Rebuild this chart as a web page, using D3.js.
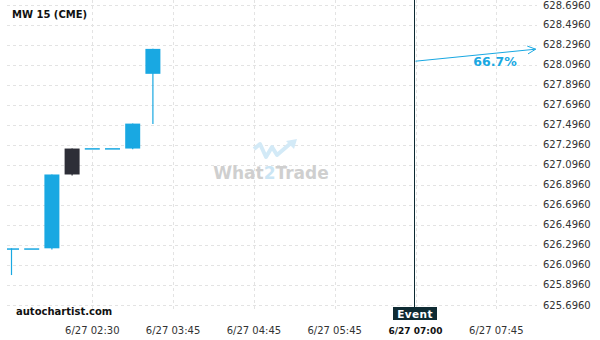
<!DOCTYPE html>
<html>
<head>
<meta charset="utf-8">
<script src="https://cdn.jsdelivr.net/npm/d3@7"></script>
<style>
  body { margin: 0; background: #fff; }
  text { font-family: "DejaVu Sans", sans-serif; }
</style>
</head>
<body>
<div id="chart"></div>
<script>
// candles, 15 min bars, by index
var opens  = [626.262, 626.262, 626.262, 627.258, 627.262, 627.262, 627.258, 628.004];
var highs  = [626.262, 626.262, 626.999, 627.258, 627.262, 627.262, 627.507, 628.253];
var lows   = [625.995, 626.262, 626.250, 626.990, 627.262, 627.262, 627.250, 627.504];
var closes = [626.262, 626.262, 626.999, 626.999, 627.262, 627.262, 627.507, 628.253];

var yTicks = [625.696, 625.896, 626.096, 626.296, 626.496, 626.696, 626.896, 627.096,
              627.296, 627.496, 627.696, 627.896, 628.096, 628.296, 628.496, 628.696];
var xTickIdx    = [4, 8, 12, 16, 20, 24];
var xTickLabels = ['6/27 02:30', '6/27 03:45', '6/27 04:45', '6/27 05:45', '6/27 07:00', '6/27 07:45'];

var eventIdx = 20;
var forecastFrom = 628.13, forecastTo = 628.25, forecastEndIdx = 26;
var forecastLabel = '66.7%';

var width = 600, height = 340;
var plot = {left: 7, right: 537, top: 0, bottom: 310};

var svg = d3.select('#chart').append('svg')
    .attr('width', width)
    .attr('height', height);

var x = d3.scaleLinear().domain([0, 25]).range([11.5, 516.5]);
var y = d3.scaleLinear().domain([625.696, 628.696]).range([305, 4.5]);

svg.append('defs').append('clipPath').attr('id', 'clip')
    .append('rect')
    .attr('x', plot.left).attr('y', plot.top)
    .attr('width', plot.right - plot.left).attr('height', plot.bottom - plot.top);

// grid
var grid = svg.append('g').attr('stroke', '#e3e3e3').attr('stroke-dasharray', '3,3');
grid.selectAll('.hg').data(yTicks).enter().append('line')
    .attr('x1', plot.left).attr('x2', plot.right)
    .attr('y1', function (d) { return Math.round(y(d)) + 0.5; })
    .attr('y2', function (d) { return Math.round(y(d)) + 0.5; });
grid.selectAll('.vg').data(xTickIdx).enter().append('line')
    .attr('y1', plot.top).attr('y2', plot.bottom)
    .attr('x1', function (d) { return Math.round(x(d)) + 0.5; })
    .attr('x2', function (d) { return Math.round(x(d)) + 0.5; });

// y axis labels
svg.append('g').selectAll('text').data(yTicks).enter().append('text')
    .attr('x', 543)
    .attr('y', function (d) { return Math.max(y(d), 5.5); })
    .attr('dy', '0.35em')
    .attr('font-size', 10)
    .attr('fill', '#333')
    .text(function (d) { return d.toFixed(4); });

// x axis labels
svg.append('g').selectAll('text').data(xTickIdx).enter().append('text')
    .attr('x', function (d) { return x(d); })
    .attr('y', 334)
    .attr('text-anchor', 'middle')
    .attr('font-size', function (d) { return d === eventIdx ? 9 : 10; })
    .attr('font-weight', function (d) { return d === eventIdx ? 'bold' : 'normal'; })
    .attr('fill', function (d) { return d === eventIdx ? '#111' : '#333'; })
    .text(function (d, i) { return xTickLabels[i]; });

// watermark
var wm = svg.append('g');
wm.append('path')
    .attr('d', 'M254,149 L260,144 L266,157 L272,147 L277,155 L291,143')
    .attr('fill', 'none').attr('stroke', '#d3eaf7').attr('stroke-width', 4)
    .attr('stroke-linejoin', 'round');
wm.append('path')
    .attr('d', 'M286,141 L297,139 L294,149 Z')
    .attr('fill', '#d3eaf7');
var wt = wm.append('text')
    .attr('x', 271).attr('y', 179)
    .attr('text-anchor', 'middle')
    .attr('font-size', 17).attr('font-weight', 'bold')
    .attr('font-family', '"Open Sans", "DejaVu Sans", sans-serif')
    .attr('fill', '#cfcfcf');
wt.append('tspan').text('What');
wt.append('tspan').attr('fill', '#cbe5f4').text('2');
wt.append('tspan').text('Trade');

// candles
var body = svg.append('g').attr('clip-path', 'url(#clip)');
var idx = d3.range(opens.length);
var cw = 15;
function col(i) { return closes[i] < opens[i] ? '#2d2e37' : '#19a8e2'; }

body.selectAll('.wick').data(idx).enter().append('line')
    .attr('x1', function (i) { return x(i); })
    .attr('x2', function (i) { return x(i); })
    .attr('y1', function (i) { return y(highs[i]); })
    .attr('y2', function (i) { return y(lows[i]); })
    .attr('stroke', col)
    .attr('stroke-width', 1.2);

body.selectAll('.candle').data(idx).enter().append('rect')
    .attr('x', function (i) { return x(i) - cw / 2; })
    .attr('width', cw)
    .attr('y', function (i) { return y(Math.max(opens[i], closes[i])); })
    .attr('height', function (i) { return Math.max(1.5, Math.abs(y(opens[i]) - y(closes[i]))); })
    .attr('fill', col);

// event line
var ex = Math.floor(x(eventIdx)) - 0.5;
svg.append('line')
    .attr('x1', ex).attr('x2', ex)
    .attr('y1', 0).attr('y2', 308)
    .attr('stroke', '#0d2a33').attr('stroke-width', 1);
svg.append('rect')
    .attr('x', x(eventIdx) - 22.5).attr('y', 307)
    .attr('width', 44).attr('height', 13)
    .attr('fill', '#0f2b33');
svg.append('text')
    .attr('x', x(eventIdx) - 0.5).attr('y', 317.5)
    .attr('text-anchor', 'middle')
    .attr('font-size', 10.5).attr('font-weight', 'bold')
    .attr('fill', '#fff')
    .attr('letter-spacing', 0.4)
    .text('Event');

// forecast arrow
var ax1 = x(eventIdx), ay1 = y(forecastFrom), ax2 = x(forecastEndIdx) - 1, ay2 = y(forecastTo);
var ang = Math.atan2(ay2 - ay1, ax2 - ax1);
svg.append('line')
    .attr('x1', ax1).attr('y1', ay1).attr('x2', ax2).attr('y2', ay2)
    .attr('stroke', '#19a8e2').attr('stroke-width', 1);
var hl = 9, ha = 0.45;
svg.append('path')
    .attr('d', 'M' + (ax2 - hl * Math.cos(ang - ha)) + ',' + (ay2 - hl * Math.sin(ang - ha)) +
               'L' + ax2 + ',' + ay2 +
               'L' + (ax2 - hl * Math.cos(ang + ha)) + ',' + (ay2 - hl * Math.sin(ang + ha)))
    .attr('fill', 'none').attr('stroke', '#19a8e2').attr('stroke-width', 1);
svg.append('text')
    .attr('x', 495).attr('y', 66)
    .attr('text-anchor', 'middle')
    .attr('font-size', 12.5).attr('font-weight', 'bold')
    .attr('fill', '#19a8e2')
    .text(forecastLabel);

// titles
svg.append('text')
    .attr('x', 12).attr('y', 18)
    .attr('font-size', 10).attr('font-weight', 'bold')
    .attr('fill', '#111')
    .text('MW 15 (CME)');
svg.append('text')
    .attr('x', 16).attr('y', 315)
    .attr('font-size', 10).attr('font-weight', 'bold')
    .attr('fill', '#111')
    .text('autochartist.com');
</script>
</body>
</html>
